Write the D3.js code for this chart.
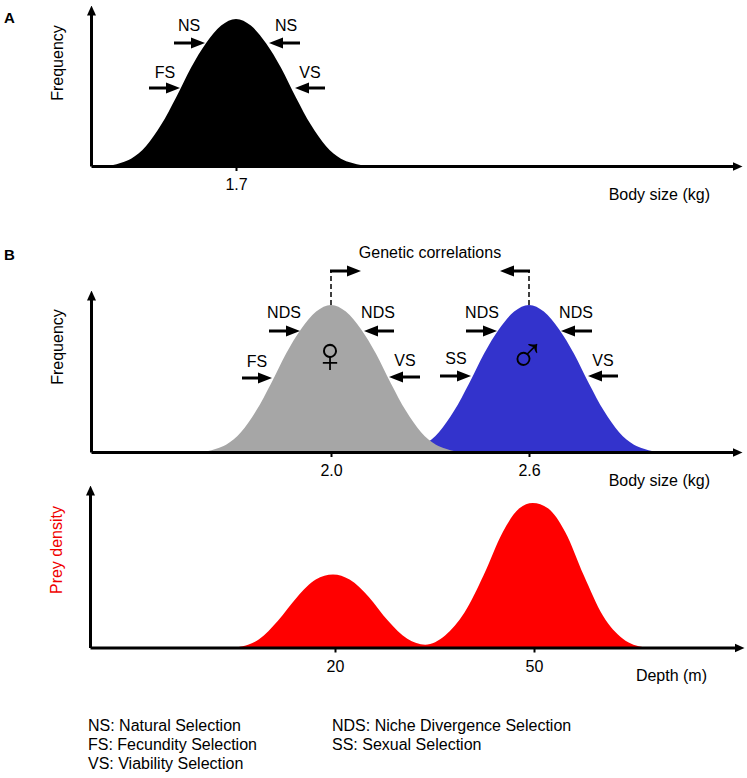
<!DOCTYPE html>
<html><head><meta charset="utf-8">
<script src="https://cdn.jsdelivr.net/npm/d3@7"></script>
<style>html,body{margin:0;padding:0;background:#fff}svg{display:block}text{font-family:"Liberation Sans",Arial,sans-serif;fill:#000}</style>
</head><body><svg id="c" width="747" height="778"></svg>
<script>
// Panel A: body size distribution
const sizeA = [1.3,1.324,1.352,1.382,1.427,1.473,1.518,1.564,1.609,1.655,1.7,1.745,1.791,1.836,1.882,1.927,1.973,2.018,2.05,2.082,2.1];
const freqA = [0,0.005,0.022,0.05,0.135,0.28,0.465,0.67,0.835,0.955,1,0.955,0.835,0.67,0.465,0.28,0.135,0.05,0.022,0.005,0];
// Panel B: females and males
const sizeF = [1.6,1.624,1.652,1.682,1.727,1.773,1.818,1.864,1.909,1.955,2.0,2.045,2.091,2.136,2.182,2.227,2.273,2.318,2.348,2.376,2.4];
const freqF = [0,0.005,0.022,0.05,0.135,0.28,0.465,0.67,0.835,0.955,1,0.955,0.835,0.67,0.465,0.28,0.135,0.05,0.022,0.005,0];
const sizeM = [2.2,2.224,2.252,2.282,2.327,2.373,2.418,2.464,2.509,2.555,2.6,2.645,2.691,2.736,2.782,2.827,2.873,2.918,2.948,2.976,3.0];
const freqM = [0,0.005,0.022,0.05,0.135,0.28,0.465,0.67,0.835,0.955,1,0.955,0.835,0.67,0.465,0.28,0.135,0.05,0.022,0.005,0];
// Panel C: prey density by depth
const depth = [5.2,7,8.5,11.4,14.3,17.1,19.7,22.2,25.1,28,30.9,33.6,36.6,39.5,42.4,45.3,47.8,49.8,52.1,54.7,57.5,60.4,63.4,66.6];
const prey = [0,0.02,0.055,0.185,0.35,0.47,0.505,0.47,0.35,0.185,0.06,0.019,0.083,0.24,0.5,0.8,0.963,1,0.963,0.8,0.5,0.22,0.06,0];
// Tick labels and text
const ticksA = [1.7], ticksB = [2.0, 2.6], ticksC = [20, 50];
const legendLeft = ["NS: Natural Selection","FS: Fecundity Selection","VS: Viability Selection"];
const legendRight = ["NDS: Niche Divergence Selection","SS: Sexual Selection"];

const svg = d3.select("#c");
const defs = svg.append("defs");
defs.append("marker").attr("id","ah").attr("markerUnits","userSpaceOnUse").attr("viewBox","0 0 10 10")
  .attr("markerWidth",10).attr("markerHeight",10).attr("refX",1).attr("refY",5).attr("orient","auto")
  .append("path").attr("d","M0,0.5L10,5L0,9.5Z").attr("fill","#000");
defs.append("marker").attr("id","sel").attr("markerUnits","userSpaceOnUse").attr("viewBox","0 0 14 12")
  .attr("markerWidth",14).attr("markerHeight",12).attr("refX",1).attr("refY",6).attr("orient","auto")
  .append("path").attr("d","M0,0.5L14,6L0,11.5Z").attr("fill","#000");

const panelA = {x:d3.scaleLinear([1.7,2.7],[236,566]), x0:91, x1:733, y:d3.scaleLinear([0,1],[166,19]), top:14};
const panelB = {x:d3.scaleLinear([2.0,2.6],[331,529]), x0:91, x1:733, y:d3.scaleLinear([0,1],[452,305]), top:299};
const panelC = {x:d3.scaleLinear([20,50],[335,534]), x0:90, x1:735, y:d3.scaleLinear([0,1],[647.5,503]), top:494};

function area(p, xs, ys, fill){
  const gen = d3.area().x((d,i)=>p.x(xs[i])).y0(p.y(0)).y1((d,i)=>p.y(ys[i])).curve(d3.curveMonotoneX);
  svg.append("path").datum(xs).attr("d",gen).attr("fill",fill);
}
function axes(p, ticks, fmt){
  const bx = d3.scaleLinear([p.x.invert(p.x0),p.x.invert(p.x1)],[p.x0,p.x1]);
  const gx = svg.append("g").attr("transform",`translate(0,${p.y(0)})`)
    .call(d3.axisBottom(bx).tickValues(ticks).tickSize(5).tickSizeOuter(0).tickPadding(8).tickFormat(fmt));
  gx.select(".domain").attr("stroke","#000").attr("stroke-width",3).attr("marker-end","url(#ah)");
  gx.selectAll(".tick line").attr("stroke","#000").attr("stroke-width",2);
  gx.selectAll(".tick text").attr("font-size",16).attr("fill","#000").style("font-family",'"Liberation Sans"');
  const by = d3.scaleLinear([0,p.y.invert(p.top)],[p.y(0),p.top]);
  const gy = svg.append("g").attr("transform",`translate(${p.x0},0)`)
    .call(d3.axisLeft(by).tickValues([]).tickSizeOuter(0));
  gy.select(".domain").attr("stroke","#000").attr("stroke-width",3).attr("marker-end","url(#ah)");
}
function text(s,x,y,o={}){
  const t = svg.append("text").attr("x",x).attr("y",y).attr("font-size",o.size||16)
    .attr("text-anchor",o.anchor||"middle").text(s);
  if(o.weight) t.attr("font-weight",o.weight);
  if(o.fill) t.style("fill",o.fill);
  if(o.family) t.style("font-family",o.family);
  if(o.rot) t.attr("transform",`rotate(-90 ${x} ${y})`);
  return t;
}
function arrow(x1,x2,y){
  const dir = x2>x1?1:-1;
  svg.append("line").attr("x1",x1).attr("x2",x2-dir*14).attr("y1",y).attr("y2",y)
    .attr("stroke","#000").attr("stroke-width",3).attr("marker-end","url(#sel)");
}

// Panel A
area(panelA,sizeA,freqA,"#000");
axes(panelA,ticksA,d3.format(".1f"));
// Panel B (males under females)
area(panelB,sizeM,freqM,"#3333cc");
area(panelB,sizeF,freqF,"#a6a6a6");
axes(panelB,ticksB,d3.format(".1f"));
// Panel C
area(panelC,depth,prey,"#ff0000");
axes(panelC,ticksC,d3.format("d"));

text("A",4,23,{anchor:"start",weight:"bold",size:15});
text("B",4,260,{anchor:"start",weight:"bold",size:15});
text("Frequency",63,63,{rot:1});
text("Frequency",63,347,{rot:1});
text("Prey density",62,550,{rot:1,fill:"#f00000"});
text("Body size (kg)",710,200,{anchor:"end"});
text("Body size (kg)",710,486,{anchor:"end"});
text("Depth (m)",707,681,{anchor:"end"});

// Selection arrows
[[174,206,43],[300,268,43],[149,181,88],[325,294,88],
 [269,301,331],[394,363,331],[242,273,378],[420,388,377],
 [466,498,331],[592,560,331],[440,472,376],[618,587,376]].forEach(a=>arrow(a[0],a[1],a[2]));
[["NS",189,31],["NS",286,31],["FS",165,78],["VS",310,78],
 ["NDS",284,318],["NDS",378,318],["FS",257,367],["VS",405,366],
 ["NDS",482,318],["NDS",576,318],["SS",456,364],["VS",603,366]].forEach(l=>text(l[0],l[1],l[2]));

// Genetic correlations
text("Genetic correlations",430,258);
[331,529].forEach(x=>{
  svg.append("line").attr("x1",x).attr("x2",x).attr("y1",305).attr("y2",271)
    .attr("stroke","#000").attr("stroke-width",1.5).attr("stroke-dasharray","5,3");
});
arrow(330,362,271);
arrow(530,499,271);

// Sex symbols
text("\u2640",330,372,{size:50});
text("\u2642",527,372,{size:50});

// Legend
legendLeft.forEach((s,i)=>text(s,88,731+i*19,{anchor:"start"}));
legendRight.forEach((s,i)=>text(s,332,731+i*19,{anchor:"start"}));
</script></body></html>
